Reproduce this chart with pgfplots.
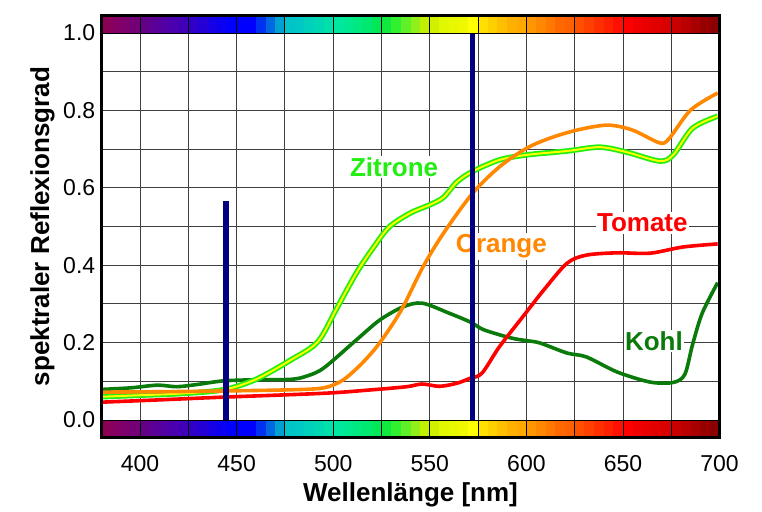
\documentclass[border=0pt]{standalone}
\usepackage{fontspec}
\setmainfont{Liberation Sans}
\usepackage{pgfplots}
\pgfplotsset{compat=1.18}
\definecolor{zgreen}{HTML}{22EE11}
\definecolor{zyellow}{HTML}{FFFF00}
\definecolor{corange}{HTML}{FF8800}
\definecolor{cred}{HTML}{FF0000}
\definecolor{kgreen}{HTML}{0A7A0A}
\definecolor{navybar}{HTML}{000080}
\definecolor{gridc}{HTML}{404040}
\begin{document}
\begin{tikzpicture}
\begin{axis}[
  scale only axis, width=618.2pt, height=421.8pt,
  xmin=380, xmax=700, ymin=-0.045, ymax=1.045,
  xtick={400,450,500,550,600,650,700},
  minor xtick={425,475,525,575,625,675},
  ytick={0,0.2,0.4,0.6,0.8,1.0},
  minor ytick={0.1,0.3,0.5,0.7,0.9},
  grid=both,
  major grid style={gridc, line width=0.9pt},
  minor grid style={gridc, line width=0.9pt},
  major tick length=0pt, minor tick length=0pt,
  axis line style={line width=3pt},
  /pgf/number format/assume math mode=true,
  yticklabel style={/pgf/number format/fixed, /pgf/number format/fixed zerofill, /pgf/number format/precision=1},
  xticklabel style={/pgf/number format/fixed, /pgf/number format/precision=0, /pgf/number format/set thousands separator={}},
  tick label style={font=\fontsize{23}{27}\selectfont},
  yticklabel style={anchor=east, inner sep=0pt, xshift=-6pt},
  xticklabel style={anchor=base, inner sep=0pt, yshift=-34pt},
  xlabel={Wellenlänge [nm]},
  ylabel={spektraler Reflexionsgrad},
  every axis x label/.style={at={(rel axis cs:0.5,-0.153)}, anchor=base, font=\fontsize{26}{30}\selectfont\bfseries},
  every axis y label/.style={at={(rel axis cs:-0.0954,0.5)}, rotate=90, anchor=center, font=\fontsize{26}{30}\selectfont\bfseries},
]
\coordinate (O) at (axis cs:380,0);
\coordinate (BL) at (rel axis cs:0,0);
\coordinate (TR) at (rel axis cs:1,1);

% Kohl
\addplot[kgreen, line width=3.6pt, smooth, tension=0.5] coordinates {
(380,0.079) (395,0.083) (409,0.090) (419,0.086) (430,0.092) (443,0.101) (460,0.104)
(478,0.105) (486,0.113) (495,0.134) (512,0.207) (524,0.258) (536,0.292) (546,0.302)
(560,0.276) (571,0.253) (578,0.233) (592,0.212) (600,0.205) (607,0.199) (621,0.173)
(631,0.163) (647,0.124) (664,0.098) (676,0.097) (682,0.118) (686,0.195) (691,0.276) (699,0.355)};
% Zitrone
\addplot[zgreen, line width=5.5pt, smooth, tension=0.5] coordinates {
(380,0.060) (400,0.064) (420,0.068) (443,0.078) (460,0.105) (478,0.155) (492,0.202)
(502,0.290) (512,0.380) (521,0.447) (529,0.499) (540,0.535) (550,0.556) (557,0.575)
(564,0.615) (572,0.642) (586,0.672) (600,0.685) (621,0.695) (638,0.705) (652,0.692)
(669,0.669) (676,0.685) (686,0.754) (699,0.785)};
\addplot[zyellow, line width=2pt, smooth, tension=0.5] coordinates {
(380,0.060) (400,0.064) (420,0.068) (443,0.078) (460,0.105) (478,0.155) (492,0.202)
(502,0.290) (512,0.380) (521,0.447) (529,0.499) (540,0.535) (550,0.556) (557,0.575)
(564,0.615) (572,0.642) (586,0.672) (600,0.685) (621,0.695) (638,0.705) (652,0.692)
(669,0.669) (676,0.685) (686,0.754) (699,0.785)};
% Tomate
\addplot[cred, line width=3.6pt, smooth, tension=0.5] coordinates {
(380,0.046) (410,0.052) (443,0.059) (495,0.069) (520,0.078) (538,0.086) (546,0.093)
(555,0.087) (564,0.095) (571,0.108) (577,0.121) (586,0.189) (598,0.266) (609,0.336)
(621,0.405) (631,0.426) (647,0.432) (664,0.431) (681,0.447) (699,0.455)};
% Orange
\addplot[corange, line width=3.6pt, smooth, tension=0.5] coordinates {
(380,0.072) (410,0.073) (443,0.075) (478,0.078) (495,0.083) (505,0.103) (515,0.147)
(524,0.199) (535,0.282) (546.5,0.396) (557,0.482) (572,0.585) (586,0.654) (600,0.702)
(612,0.728) (626,0.749) (642,0.762) (655,0.749) (669,0.716) (674,0.728) (685,0.801) (699,0.845)};

\node[fill=white, inner sep=1.5pt, text=zgreen, font=\fontsize{26}{30}\selectfont\bfseries] at (axis cs:531.5,0.654) {Zitrone};
\node[fill=white, inner sep=1.5pt, text=corange, font=\fontsize{26}{30}\selectfont\bfseries] at (axis cs:587,0.448) {Orange};
\node[fill=white, inner sep=1.5pt, text=cred, font=\fontsize{26}{30}\selectfont\bfseries] at (axis cs:660,0.509) {Tomate};
\node[fill=white, inner sep=1.5pt, text=kgreen, font=\fontsize{26}{30}\selectfont\bfseries] at (axis cs:666,0.204) {Kohl};

% blue bars
\addplot[navybar, line width=5.6pt, forget plot] coordinates {(444.6,0) (444.6,0.566)};
\addplot[navybar, line width=5.6pt, forget plot] coordinates {(572,0) (572,1)};
\end{axis}

% spectral colour strips (decoration)
\begin{scope}[shift={(O)}, x=1.931875pt, y=386.97pt]
\foreach \a/\c in {0/8B0055, 5/850062, 10/7D006E, 15/740078, 20/620088, 25/5A0096,
  30/5200A2, 35/4A00AE, 40/4000B8, 45/3000C8, 50/2400D6, 55/1800E4, 60/0C00F2,
  65/0000FF, 70/0000FF, 75/0000FF, 80/0030F0, 85/0068E0, 90/00A0D0, 95/00C4C8,
  100/00C8C4, 105/00D0BC, 110/00D8B4, 115/00E0AC, 120/00E8A0, 125/00E890, 130/00E880,
  135/00E870, 140/00E858, 145/10E840, 150/30F030, 155/60F028, 160/90F018, 165/C0F000,
  170/D0F000, 175/E0F800, 180/E8F800, 185/F0F800, 190/FFFF00, 195/FFE000, 200/FFD000,
  205/FFC000, 210/FFB000, 215/FFA800, 220/FF9800, 225/FF8800, 230/FF7800, 235/FF6800,
  240/FF6000, 245/FF5000, 250/FF4000, 255/FF3000, 260/FF2000, 265/FF1000, 270/FF0000,
  275/F00000, 280/E80000, 285/E00000, 290/D80000, 295/C80000, 300/B80000, 305/A80000,
  310/980000, 315/8B0000} {
  \definecolor{tmpc}{HTML}{\c}
  \fill[tmpc] (\a,-0.045) rectangle ({\a+5.1},0);
  \fill[tmpc] (\a,1) rectangle ({\a+5.1},1.045);
}
\foreach \v in {20,45,...,295} {
  \draw[black, line width=0.9pt] (\v,-0.045) -- (\v,0) (\v,1) -- (\v,1.045);
}
\draw[black, line width=0.9pt] (0,0) -- (320,0) (0,1) -- (320,1);
\draw[black, line width=3.5pt] (0,-0.045) rectangle (320,1.045);
\end{scope}

\pgfresetboundingbox
\path[use as bounding box] ([shift={(-101.4pt,-73.6pt)}]BL) rectangle ([shift={(42.4pt,15.6pt)}]TR);
\end{tikzpicture}
\end{document}
